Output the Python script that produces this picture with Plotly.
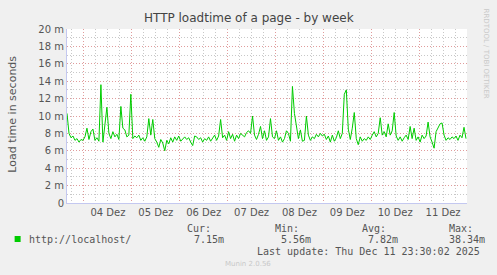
import pandas as pd
import plotly.graph_objects as go

# ---- data (hourly samples, seconds*1e-3 -> "m") ----
start_time = "2025-12-03 15:30"
load_ms = [
    10.3, 8.0, 7.5, 7.7, 7.2, 7.4, 7.0, 7.3, 7.2, 7.6,
    8.6, 7.3, 8.2, 8.5, 7.2, 7.5, 7.1, 13.6, 7.0, 9.0,
    11.0, 8.0, 7.4, 8.2, 7.6, 7.9, 7.3, 11.1, 8.6, 8.4,
    7.6, 7.8, 12.5, 7.4, 7.7, 7.5, 7.8, 7.2, 7.5, 7.1,
    7.6, 9.7, 7.8, 9.6, 7.4, 7.0, 6.4, 7.3, 6.9, 6.0,
    7.2, 6.8, 7.5, 7.0, 7.6, 7.2, 7.7, 7.1, 7.4, 7.6,
    7.3, 7.5, 7.0, 6.6, 7.7, 7.6, 7.3, 7.5, 7.0, 7.4,
    7.2, 7.6, 7.1, 7.5, 7.8, 7.2, 7.7, 9.6, 7.5, 7.8,
    7.2, 8.2, 7.4, 7.9, 7.1, 7.8, 7.4, 8.0, 7.8, 7.6,
    8.1, 8.3, 8.0, 10.0, 7.8, 7.3, 7.9, 8.8, 7.4, 8.3,
    7.2, 7.6, 9.7, 7.6, 7.4, 8.3, 7.2, 7.6, 7.0, 7.4,
    8.3, 8.0, 7.1, 13.4, 10.3, 9.0, 7.4, 8.4, 7.1, 7.2,
    10.0, 7.8, 7.2, 7.6, 7.4, 7.9, 7.6, 8.0, 7.7, 7.9,
    7.3, 7.7, 7.0, 7.8, 7.1, 7.5, 8.3, 7.4, 8.0, 12.5,
    13.0, 8.5, 7.3, 8.6, 10.4, 7.4, 6.7, 7.6, 7.1, 7.4,
    7.2, 7.6, 7.3, 7.8, 8.2, 7.6, 8.0, 9.8, 7.8, 8.2,
    7.6, 9.1, 7.8, 8.3, 10.4, 7.7, 7.2, 7.6, 7.1, 7.5,
    7.8, 7.3, 8.8, 7.4, 8.6, 7.2, 7.6, 7.0, 7.8, 7.4,
    7.7, 9.3, 7.6, 7.0, 6.3, 8.2, 8.7, 9.1, 9.2, 7.8,
    7.2, 7.5, 7.3, 7.6, 7.4, 7.7, 7.2, 7.8, 7.5, 8.7,
    7.4,
]
times = pd.date_range(start_time, periods=len(load_ms), freq="h")

y_tick_vals = [0, 2, 4, 6, 8, 10, 12, 14, 16, 18, 20]
y_tick_text = ["0", "2 m", "4 m", "6 m", "8 m", "10 m", "12 m", "14 m", "16 m", "18 m", "20 m"]

series_name = "http://localhost/"
stat_labels = ["Cur:", "Min:", "Avg:", "Max:"]
stat_values = ["7.15m", "5.56m", "7.82m", "38.34m"]
last_update = "Last update: Thu Dec 11 23:30:02 2025"
title_text = "HTTP loadtime of a page - by week"
y_title = "Load time in seconds"

# ---- layout geometry (pixels) ----
W, H = 497, 275
L, R, T, B = 66.5, 467.5, 29, 203


def px(x):
    return (x - L) / (R - L)


def py(y):
    return (B - y) / (B - T)


MAJ = "#e09c9c"
MIN = "#c8c8c8"
AXC = "#c4c8f0"
TXT = "#555555"
MONO = "DejaVu Sans Mono"

fig = go.Figure()
fig.add_trace(go.Scatter(
    x=times, y=load_ms, mode="lines",
    line=dict(color="#00cc00", width=1),
    showlegend=False, hoverinfo="skip",
))

fig.update_layout(
    width=W, height=H,
    margin=dict(l=L, r=W - R, t=T, b=H - B, pad=0),
    paper_bgcolor="#f0f0f0",
    plot_bgcolor="#ffffff",
    font=dict(family="DejaVu Sans", size=10, color=TXT),
    showlegend=False,
)

fig.update_xaxes(
    range=["2025-12-03 15:30", "2025-12-12 00:00"],
    tick0="2025-12-04", dtick=86400000,
    ticklabelmode="period", tickformat="%d Dez",
    showgrid=True, gridcolor=MAJ, griddash="1px,2px", gridwidth=1,
    minor=dict(dtick=21600000, tick0="2025-12-04", showgrid=True,
               gridcolor=MIN, griddash="1px,2px", gridwidth=1),
    showline=True, linecolor=AXC, linewidth=1,
    ticks="", zeroline=False,
    tickfont=dict(size=10, color=TXT),
)
fig.update_yaxes(
    range=[0, 20],
    tickvals=y_tick_vals, ticktext=y_tick_text,
    showgrid=True, gridcolor=MAJ, griddash="1px,2px", gridwidth=1,
    minor=dict(dtick=1, tick0=0, showgrid=True,
               gridcolor=MIN, griddash="1px,2px", gridwidth=1),
    showline=True, linecolor=AXC, linewidth=1,
    ticks="", zeroline=False,
    tickfont=dict(size=10, color=TXT),
)

ann = []
# title
ann.append(dict(x=px(248.5), y=py(18), xref="paper", yref="paper", text=title_text,
                showarrow=False, xanchor="center", yanchor="middle",
                font=dict(family="DejaVu Sans", size=12, color="#444444")))
# y axis title
ann.append(dict(x=px(11), y=py(114), xref="paper", yref="paper", text=y_title,
                showarrow=False, xanchor="center", yanchor="middle", textangle=-90,
                font=dict(family="DejaVu Sans", size=11, color=TXT)))
# rrdtool credit
ann.append(dict(x=px(487), y=py(54), xref="paper", yref="paper", text="RRDTOOL / TOBI OETIKER",
                showarrow=False, xanchor="center", yanchor="middle", textangle=90,
                font=dict(family="DejaVu Sans", size=7, color="#c8c8c8")))
# munin version
ann.append(dict(x=px(248), y=py(264), xref="paper", yref="paper", text="Munin 2.0.56",
                showarrow=False, xanchor="center", yanchor="middle",
                font=dict(family="DejaVu Sans", size=7, color="#c8c8c8")))
# legend series name
ann.append(dict(x=px(26), y=py(239.5), xref="paper", yref="paper", text=series_name,
                showarrow=False, xanchor="left", yanchor="middle",
                font=dict(family=MONO, size=10, color=TXT)))
label_x = [185, 273, 360, 447]
value_x = [192, 279, 366, 447]
for lx, vx, lab, val in zip(label_x, value_x, stat_labels, stat_values):
    ann.append(dict(x=px(lx), y=py(228), xref="paper", yref="paper", text=lab,
                    showarrow=False, xanchor="left", yanchor="middle",
                    font=dict(family=MONO, size=10, color=TXT)))
    ann.append(dict(x=px(vx), y=py(239.5), xref="paper", yref="paper", text=val,
                    showarrow=False, xanchor="left", yanchor="middle",
                    font=dict(family=MONO, size=10, color=TXT)))
ann.append(dict(x=px(483), y=py(251), xref="paper", yref="paper", text=last_update,
                showarrow=False, xanchor="right", yanchor="middle",
                font=dict(family=MONO, size=10, color=TXT)))
# axis arrows
ann.append(dict(x=px(471), y=py(B), xref="paper", yref="paper", ax=-1, ay=0,
                axref="pixel", ayref="pixel", text="", showarrow=True,
                arrowhead=2, arrowsize=1.2, arrowwidth=1, arrowcolor=AXC))
ann.append(dict(x=px(L), y=py(T - 4), xref="paper", yref="paper", ax=0, ay=1,
                axref="pixel", ayref="pixel", text="", showarrow=True,
                arrowhead=2, arrowsize=1.2, arrowwidth=1, arrowcolor=AXC))
fig.update_layout(annotations=ann)

# legend colour swatch
fig.add_shape(type="rect", xref="paper", yref="paper",
              x0=px(14), x1=px(20), y0=py(242), y1=py(236),
              fillcolor="#00cc00", line=dict(width=0))

fig.write_html("out.html")
